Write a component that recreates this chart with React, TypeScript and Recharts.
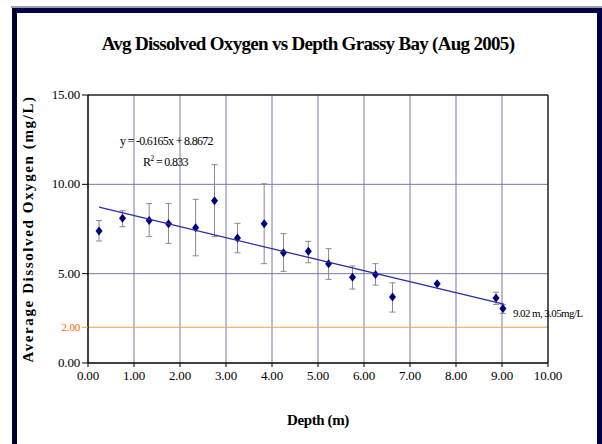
import React from 'react';
import {
  ScatterChart,
  Scatter,
  XAxis,
  YAxis,
  CartesianGrid,
  ErrorBar,
  ReferenceLine,
} from 'recharts';

// depth (m), average DO (mg/L), lower and upper error bar ends
const depths = [0.24, 0.75, 1.33, 1.75, 2.34, 2.75, 3.25, 3.83, 4.25, 4.79, 5.23, 5.75, 6.25, 6.62, 7.59, 8.87, 9.02];
const oxygen = [7.39, 8.1, 7.98, 7.8, 7.57, 9.08, 6.99, 7.8, 6.17, 6.25, 5.56, 4.8, 4.96, 3.69, 4.44, 3.64, 3.05];
const lows = [6.83, 7.63, 7.07, 6.7, 6.0, 7.07, 6.17, 5.56, 5.13, 5.61, 4.68, 4.14, 4.36, 2.85, 4.44, 3.28, 2.78];
const highs = [7.97, 8.52, 8.92, 8.92, 9.16, 11.1, 7.82, 10.03, 7.24, 6.81, 6.4, 5.43, 5.56, 4.49, 4.44, 3.96, 3.28];

// linear trendline endpoints (y = -0.6165x + 8.8672)
const trendX = [0.24, 9.04];
const trendY = [8.72, 3.29];

const xTicks = [0, 1, 2, 3, 4, 5, 6, 7, 8, 9, 10];
const yTicks = [0, 2, 5, 10, 15];

const points = depths.map((d, i) => ({
  x: d,
  y: oxygen[i],
  err: [oxygen[i] - lows[i], highs[i] - oxygen[i]],
}));
const trend = trendX.map((x, i) => ({ x, y: trendY[i] }));

const font = '"Liberation Serif", "Times New Roman", serif';

const Diamond = (props: any) => {
  const { cx, cy } = props;
  if (cx == null || cy == null) return null;
  return (
    <polygon
      points={`${cx},${cy - 4.5} ${cx + 3.5},${cy} ${cx},${cy + 4.5} ${cx - 3.5},${cy}`}
      fill="#000080"
    />
  );
};

const YTick = (props: any) => {
  const { x, y, payload } = props;
  const isRef = payload.value === 2;
  const color = isRef ? '#ff6600' : '#000';
  return (
    <g>
      <line x1={x + 2} x2={x + 8} y1={y} y2={y} stroke={isRef ? '#f0a040' : '#000'} strokeWidth={1} />
      <text
        x={x}
        y={y}
        dy={4}
        textAnchor="end"
        fontFamily={font}
        fontSize={isRef ? 11 : 13}
        letterSpacing={-0.2}
        fill={color}
      >
        {payload.value.toFixed(2)}
      </text>
    </g>
  );
};

export default function App() {
  return (
    <div style={{ position: 'absolute', left: 0, top: 0, width: 602, height: 444, background: '#fff', overflow: 'hidden' }}>
      <div style={{ position: 'absolute', left: 11, top: 6, width: 591, borderTop: '2px solid #a0a0a0' }} />
      <div
        style={{
          position: 'absolute',
          left: 12,
          top: 8,
          width: 580,
          height: 450,
          borderLeft: '5px solid #00002e',
          borderTop: '5px solid #00004a',
          borderRight: '5px solid #00004a',
        }}
      />
      <div
        style={{
          position: 'absolute',
          left: 0,
          width: 616,
          top: 33,
          textAlign: 'center',
          fontFamily: font,
          fontWeight: 'bold',
          fontSize: 19,
          letterSpacing: -0.7,
        }}
      >
        Avg Dissolved Oxygen vs Depth Grassy Bay (Aug 2005)
      </div>
      <div style={{ position: 'absolute', left: 0, top: 0 }}>
        <ScatterChart width={602} height={444} margin={{ top: 95, right: 54, bottom: 41, left: 22 }}>
          <CartesianGrid
            stroke="#7878a8"
            strokeWidth={1}
            horizontalValues={[5, 10]}
            verticalValues={[1, 2, 3, 4, 5, 6, 7, 8, 9]}
          />
          <XAxis
            type="number"
            dataKey="x"
            domain={[0, 10]}
            ticks={xTicks}
            tickFormatter={(v: number) => v.toFixed(2)}
            tick={{ fontFamily: font, fontSize: 13, fill: '#000', letterSpacing: -0.2 }}
            axisLine={{ stroke: '#000', strokeWidth: 1.5 }}
            tickLine={{ stroke: '#000' }}
            tickSize={4}
            tickMargin={4}
            height={40}
            label={{
              value: 'Depth (m)',
              position: 'insideBottom',
              offset: -22,
              fontFamily: font,
              fontWeight: 'bold',
              fontSize: 15,
              letterSpacing: -0.4,
              fill: '#000',
            }}
          />
          <YAxis
            type="number"
            dataKey="y"
            domain={[0, 15]}
            ticks={yTicks}
            tick={<YTick />}
            tickLine={false}
            axisLine={{ stroke: '#000', strokeWidth: 1.5 }}
            width={66}
            label={{
              value: 'Average Dissolved Oxygen (mg/L)',
              angle: -90,
              position: 'insideLeft',
              offset: 0,
              dx: 6,
              fontFamily: font,
              fontWeight: 'bold',
              fontSize: 15,
              letterSpacing: 1.6,
              fill: '#000',
              style: { textAnchor: 'middle' },
            }}
          />
          <ReferenceLine y={2} stroke="#f0a040" strokeWidth={1.2} />
          <ReferenceLine y={15} stroke="#222" strokeWidth={1.5} />
          <ReferenceLine x={10} stroke="#222" strokeWidth={1.5} />
          <Scatter data={points} fill="#000080" shape={<Diamond />} isAnimationActive={false}>
            <ErrorBar dataKey="err" direction="y" width={3} stroke="#8a8a8a" strokeWidth={1} />
          </Scatter>
          <Scatter
            data={trend}
            line={{ stroke: '#2a2aa8', strokeWidth: 1.3 }}
            shape={() => null}
            isAnimationActive={false}
          />
        </ScatterChart>
      </div>
      <div style={{ position: 'absolute', left: 120, top: 134, fontFamily: font, fontSize: 12, letterSpacing: -0.7 }}>
        y = -0.6165x + 8.8672
      </div>
      <div style={{ position: 'absolute', left: 143, top: 154, fontFamily: font, fontSize: 12, letterSpacing: -0.7 }}>
        R<sup style={{ fontSize: 8 }}>2</sup> = 0.833
      </div>
      <div style={{ position: 'absolute', left: 513, top: 307, fontFamily: font, fontSize: 11, letterSpacing: -0.6 }}>
        9.02 m, 3.05mg/L
      </div>
    </div>
  );
}
